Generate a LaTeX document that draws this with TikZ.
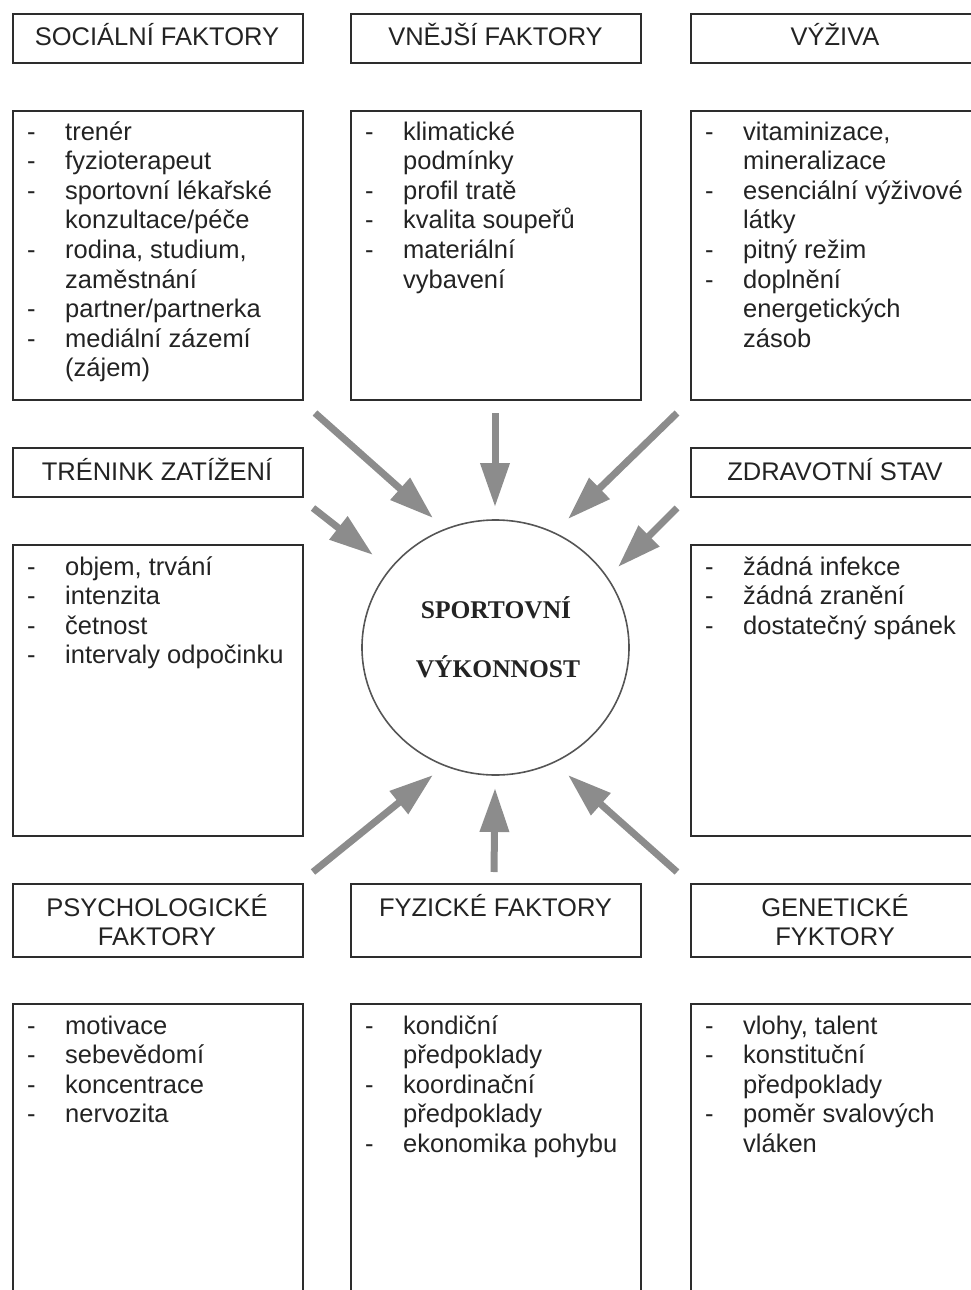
\documentclass[tikz,border=0pt]{standalone}
\usepackage{fontspec}
\usepackage{xcolor}
\setmainfont{Liberation Sans}
\newfontfamily\titlefont{Liberation Serif}
\usetikzlibrary{arrows.meta,shapes.geometric}

\definecolor{framecolor}{RGB}{45,45,45}
\definecolor{textcolor}{RGB}{35,35,35}
\definecolor{circlecolor}{RGB}{85,85,85}
\definecolor{arrowcolor}{RGB}{140,140,140}

\newcommand{\headline}[1]{\begin{tabular}[t]{@{}c@{}}#1\end{tabular}}
\newcommand{\itemlist}[1]{\begin{tabular}[t]{@{}p{38pt}@{}l@{}}#1\end{tabular}}

\tikzset{
    frame/.style={draw=framecolor, line width=1.6pt, minimum width=290pt, anchor=north west, inner sep=0pt},
    headbox/.style={frame, minimum height=49pt},
    listbox/.style={frame, minimum height=289pt},
    headtext/.style={anchor=base, inner sep=0pt, text=textcolor, font=\fontsize{25.5}{29.6}\selectfont},
    listtext/.style={anchor=base west, inner sep=0pt, text=textcolor, font=\fontsize{25.5}{29.6}\selectfont},
    perftext/.style={anchor=base, inner sep=0pt, text=textcolor, font=\titlefont\bfseries\fontsize{25.5}{30}\selectfont},
    influence/.style={draw=arrowcolor, line width=7pt, -{Triangle[length=44pt,width=28pt]}},
}

\begin{document}
\begin{tikzpicture}[x=1pt, y=-1pt]
    \useasboundingbox (0,0) rectangle (971,1290);
    \clip (0,0) rectangle (971,1290);

    % row 1
    \node[headbox] (social) at (12,13) {};
    \node[headtext] (social-title) at (157,46) {\headline{SOCIÁLNÍ FAKTORY}};
    \node[listbox] (social-list) at (12,110) {};
    \node[listtext] (social-items) at (27,140) {\itemlist{
        - & trenér\\
        - & fyzioterapeut\\
        - & sportovní lékařské\\
          & konzultace/péče\\
        - & rodina, studium,\\
          & zaměstnání\\
        - & partner/partnerka\\
        - & mediální zázemí\\
          & (zájem)}};

    \node[headbox] (external) at (350,13) {};
    \node[headtext] (external-title) at (495.5,46) {\headline{VNĚJŠÍ FAKTORY}};
    \node[listbox] (external-list) at (350,110) {};
    \node[listtext] (external-items) at (365,140) {\itemlist{
        - & klimatické\\
          & podmínky\\
        - & profil tratě\\
        - & kvalita soupeřů\\
        - & materiální\\
          & vybavení}};

    \node[headbox] (nutrition) at (690,13) {};
    \node[headtext] (nutrition-title) at (835,46) {\headline{VÝŽIVA}};
    \node[listbox] (nutrition-list) at (690,110) {};
    \node[listtext] (nutrition-items) at (705,140) {\itemlist{
        - & vitaminizace,\\
          & mineralizace\\
        - & esenciální výživové\\
          & látky\\
        - & pitný režim\\
        - & doplnění\\
          & energetických\\
          & zásob}};

    % row 2
    \node[headbox] (training) at (12,447) {};
    \node[headtext] (training-title) at (157,480) {\headline{TRÉNINK ZATÍŽENÍ}};
    \node[listbox, minimum height=291pt] (training-list) at (12,544) {};
    \node[listtext] (training-items) at (27,575) {\itemlist{
        - & objem, trvání\\
        - & intenzita\\
        - & četnost\\
        - & intervaly odpočinku}};

    \node[headbox] (health) at (690,447) {};
    \node[headtext] (health-title) at (835,480) {\headline{ZDRAVOTNÍ STAV}};
    \node[listbox, minimum height=291pt] (health-list) at (690,544) {};
    \node[listtext] (health-items) at (705,575) {\itemlist{
        - & žádná infekce\\
        - & žádná zranění\\
        - & dostatečný spánek}};

    \node[ellipse, draw=circlecolor, line width=1.6pt, minimum width=267pt, minimum height=255pt, inner sep=0pt] (performance) at (495.5,647.5) {};
    \node[perftext] (performance-top) at (496,618) {SPORTOVNÍ};
    \node[perftext] (performance-bottom) at (498,677) {VÝKONNOST};

    % row 3
    \node[headbox, minimum height=73pt] (psycho) at (12,883) {};
    \node[headtext] (psycho-title) at (157,916) {\headline{PSYCHOLOGICKÉ\\FAKTORY}};
    \node[listbox, minimum height=300pt] (psycho-list) at (12,1003) {};
    \node[listtext] (psycho-items) at (27,1034) {\itemlist{
        - & motivace\\
        - & sebevědomí\\
        - & koncentrace\\
        - & nervozita}};

    \node[headbox, minimum height=73pt] (physical) at (350,883) {};
    \node[headtext] (physical-title) at (495.5,916) {\headline{FYZICKÉ FAKTORY}};
    \node[listbox, minimum height=300pt] (physical-list) at (350,1003) {};
    \node[listtext] (physical-items) at (365,1034) {\itemlist{
        - & kondiční\\
          & předpoklady\\
        - & koordinační\\
          & předpoklady\\
        - & ekonomika pohybu}};

    \node[headbox, minimum height=73pt] (genetic) at (690,883) {};
    \node[headtext] (genetic-title) at (835,916) {\headline{GENETICKÉ\\FYKTORY}};
    \node[listbox, minimum height=300pt] (genetic-list) at (690,1003) {};
    \node[listtext] (genetic-items) at (705,1034) {\itemlist{
        - & vlohy, talent\\
        - & konstituční\\
          & předpoklady\\
        - & poměr svalových\\
          & vláken}};

    % arrows into the circle
    \coordinate (from-nw) at (315,413);  \coordinate (to-nw) at (433,518);
    \coordinate (from-n) at (495,413);   \coordinate (to-n) at (495,507);
    \coordinate (from-ne) at (677,413);  \coordinate (to-ne) at (568,519);
    \coordinate (from-w) at (313,508);   \coordinate (to-w) at (373,555);
    \coordinate (from-e) at (677,508);   \coordinate (to-e) at (618,567);
    \coordinate (from-sw) at (313,872);  \coordinate (to-sw) at (433,775);
    \coordinate (from-s) at (494,872);   \coordinate (to-s) at (495,788);
    \coordinate (from-se) at (677,872);  \coordinate (to-se) at (568,775);

    \draw[influence] (from-nw) -- (to-nw);
    \draw[influence] (from-n) -- (to-n);
    \draw[influence] (from-ne) -- (to-ne);
    \draw[influence] (from-w) -- (to-w);
    \draw[influence] (from-e) -- (to-e);
    \draw[influence] (from-sw) -- (to-sw);
    \draw[influence] (from-s) -- (to-s);
    \draw[influence] (from-se) -- (to-se);
\end{tikzpicture}
\end{document}
